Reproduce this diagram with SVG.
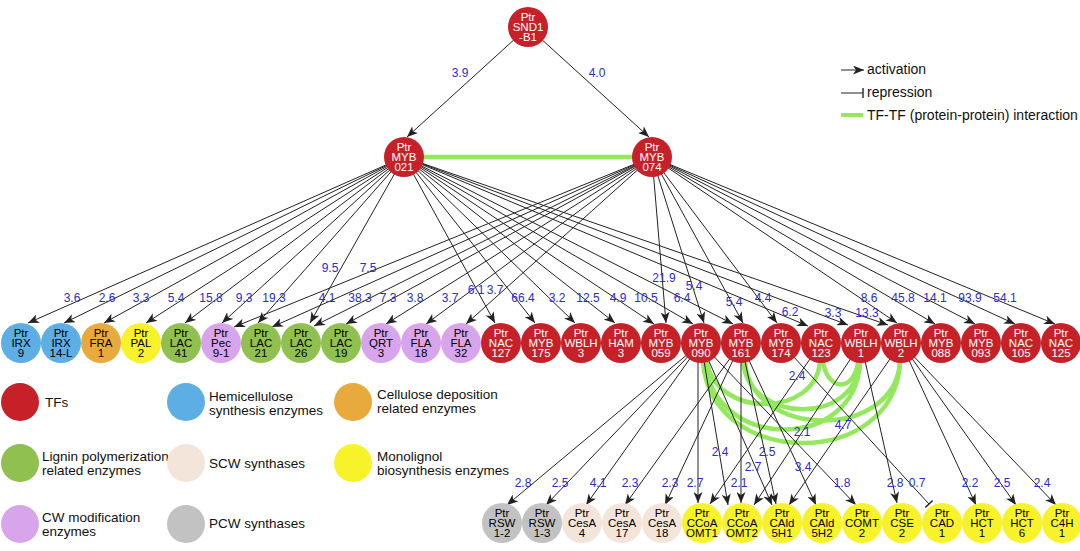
<svg xmlns="http://www.w3.org/2000/svg" width="1080" height="551" viewBox="0 0 1080 551">
<style>
.n text{font-family:"Liberation Sans",Arial,sans-serif;font-size:11.5px;text-anchor:middle}
.tf circle{fill:#c62128}.tf text{fill:#fff}
.hemi circle{fill:#5daee4}.cell circle{fill:#e8aa3c}.lig circle{fill:#8fc050}.cwm circle{fill:#d8a4ec}
.scw circle{fill:#f4e5da}.pcw circle{fill:#c2c2c2}.mono circle{fill:#f8f22a}
.e{stroke:#222;stroke-width:1;fill:none}
.a{marker-end:url(#arr)}
.r{marker-end:url(#bar)}
.lbl{font-family:"Liberation Sans",Arial,sans-serif;font-size:12px;fill:#2b2bcf;text-anchor:middle}
.ppi{stroke:#93e85e;stroke-width:4.5;fill:none;stroke-linecap:round}
.leg{font-family:"Liberation Sans",Arial,sans-serif;font-size:13.5px;fill:#111}
.leg2{font-family:"Liberation Sans",Arial,sans-serif;font-size:14px;fill:#111}
</style>
<defs>
<marker id="arr" markerUnits="userSpaceOnUse" markerWidth="12" markerHeight="9" refX="11" refY="4.5" orient="auto">
<path d="M0,0 L11,4.5 L0,9 L3,4.5 z" fill="#222"/>
</marker>
<marker id="bar" markerUnits="userSpaceOnUse" markerWidth="3" markerHeight="10" refX="1.5" refY="5" orient="auto">
<path d="M1.5,0 L1.5,10" stroke="#222" stroke-width="1.4"/>
</marker>
</defs>
<rect width="1080" height="551" fill="#fff"/>

<g id="ppi-interactions">
<line class="ppi" x1="424" y1="157" x2="632" y2="157" stroke-width="5"/>
<path class="ppi" d="M703,362 C712,470 895,470 900,362"/>
<path class="ppi" d="M705,362 C714,452 856,452 860,362"/>
<path class="ppi" d="M745,362 C752,440 895,440 900,362"/>
<path class="ppi" d="M743,362 C750,425 856,425 860,362"/>
<path class="ppi" d="M707,362 C716,418 815,418 820,362"/>
<path class="ppi" d="M823,362 C828,392 854,392 858,362"/>
</g>

<g id="connectors">
<line class="e a" x1="528" y1="27" x2="407" y2="137"/>
<line class="e a" x1="528" y1="27" x2="649" y2="137"/>
<line class="e a" x1="404" y1="157" x2="28" y2="323"/>
<line class="e a" x1="404" y1="157" x2="64" y2="323"/>
<line class="e a" x1="404" y1="157" x2="104" y2="323"/>
<line class="e a" x1="404" y1="157" x2="146" y2="323"/>
<line class="e a" x1="404" y1="157" x2="185" y2="323"/>
<line class="e a" x1="404" y1="157" x2="222" y2="323"/>
<line class="e a" x1="404" y1="157" x2="258" y2="323"/>
<line class="e a" x1="404" y1="157" x2="310" y2="323"/>
<line class="e a" x1="404" y1="157" x2="495" y2="323"/>
<line class="e a" x1="404" y1="157" x2="535" y2="323"/>
<line class="e a" x1="404" y1="157" x2="575" y2="323"/>
<line class="e a" x1="404" y1="157" x2="615" y2="323"/>
<line class="e a" x1="404" y1="157" x2="654" y2="324"/>
<line class="e a" x1="404" y1="157" x2="693" y2="324"/>
<line class="e a" x1="404" y1="157" x2="733" y2="324"/>
<line class="e a" x1="404" y1="157" x2="808" y2="326"/>
<line class="e a" x1="404" y1="157" x2="848" y2="325"/>
<line class="e a" x1="404" y1="157" x2="888" y2="325"/>
<line class="e a" x1="652" y1="157" x2="234" y2="327"/>
<line class="e a" x1="652" y1="157" x2="272" y2="327"/>
<line class="e a" x1="652" y1="157" x2="314" y2="326"/>
<line class="e a" x1="652" y1="157" x2="346" y2="324"/>
<line class="e a" x1="652" y1="157" x2="386" y2="324"/>
<line class="e a" x1="652" y1="157" x2="426" y2="324"/>
<line class="e a" x1="652" y1="157" x2="466" y2="324"/>
<line class="e a" x1="652" y1="157" x2="666" y2="323"/>
<line class="e a" x1="652" y1="157" x2="704" y2="323"/>
<line class="e a" x1="652" y1="157" x2="743" y2="323"/>
<line class="e a" x1="652" y1="157" x2="777" y2="323"/>
<line class="e a" x1="652" y1="157" x2="897" y2="323"/>
<line class="e a" x1="652" y1="157" x2="935" y2="324"/>
<line class="e a" x1="652" y1="157" x2="975" y2="324"/>
<line class="e a" x1="652" y1="157" x2="1015" y2="324"/>
<line class="e a" x1="652" y1="157" x2="1055" y2="324"/>
<line class="e a" x1="701" y1="343" x2="507" y2="505"/>
<line class="e a" x1="701" y1="343" x2="546" y2="505"/>
<line class="e a" x1="701" y1="343" x2="586" y2="505"/>
<line class="e a" x1="741" y1="343" x2="625" y2="505"/>
<line class="e a" x1="741" y1="343" x2="665" y2="505"/>
<line class="e a" x1="698" y1="343" x2="698" y2="503"/>
<line class="e a" x1="821" y1="343" x2="710" y2="504"/>
<line class="e a" x1="701" y1="343" x2="728" y2="505"/>
<line class="e a" x1="741" y1="343" x2="741" y2="503"/>
<line class="e a" x1="861" y1="343" x2="754" y2="505"/>
<line class="e a" x1="701" y1="343" x2="772" y2="505"/>
<line class="e a" x1="741" y1="343" x2="776" y2="504"/>
<line class="e a" x1="901" y1="343" x2="789" y2="505"/>
<line class="e a" x1="741" y1="343" x2="816" y2="505"/>
<line class="e a" x1="701" y1="343" x2="856" y2="505"/>
<line class="e a" x1="861" y1="343" x2="897" y2="503"/>
<line class="e r" x1="781" y1="343" x2="929" y2="504"/>
<line class="e a" x1="901" y1="343" x2="976" y2="505"/>
<line class="e a" x1="901" y1="343" x2="1016" y2="505"/>
<line class="e a" x1="901" y1="343" x2="1056" y2="505"/>
</g>

<g id="edge-labels">
<text class="lbl" x="460" y="77">3.9</text>
<text class="lbl" x="597" y="77">4.0</text>
<text class="lbl" x="72" y="302">3.6</text>
<text class="lbl" x="107" y="302">2.6</text>
<text class="lbl" x="141" y="302">3.3</text>
<text class="lbl" x="176" y="302">5.4</text>
<text class="lbl" x="211" y="302">15.8</text>
<text class="lbl" x="244" y="302">9.3</text>
<text class="lbl" x="274" y="302">19.3</text>
<text class="lbl" x="330" y="272">9.5</text>
<text class="lbl" x="368" y="272">7.5</text>
<text class="lbl" x="327" y="302">4.1</text>
<text class="lbl" x="360" y="302">38.3</text>
<text class="lbl" x="388" y="302">7.3</text>
<text class="lbl" x="415" y="302">3.8</text>
<text class="lbl" x="450" y="302">3.7</text>
<text class="lbl" x="476" y="294">6.1</text>
<text class="lbl" x="495" y="294">3.7</text>
<text class="lbl" x="523" y="302">66.4</text>
<text class="lbl" x="557" y="302">3.2</text>
<text class="lbl" x="588" y="302">12.5</text>
<text class="lbl" x="618" y="302">4.9</text>
<text class="lbl" x="646" y="302">10.5</text>
<text class="lbl" x="664" y="282">21.9</text>
<text class="lbl" x="682" y="302">6.4</text>
<text class="lbl" x="694" y="290">5.4</text>
<text class="lbl" x="734" y="306">5.4</text>
<text class="lbl" x="763" y="302">4.4</text>
<text class="lbl" x="790" y="316">6.2</text>
<text class="lbl" x="833" y="317">3.3</text>
<text class="lbl" x="867" y="317">13.3</text>
<text class="lbl" x="869" y="302">8.6</text>
<text class="lbl" x="903" y="302">45.8</text>
<text class="lbl" x="935" y="302">14.1</text>
<text class="lbl" x="970" y="302">93.9</text>
<text class="lbl" x="1005" y="302">54.1</text>
<text class="lbl" x="523" y="487">2.8</text>
<text class="lbl" x="560" y="487">2.5</text>
<text class="lbl" x="598" y="487">4.1</text>
<text class="lbl" x="630" y="487">2.3</text>
<text class="lbl" x="670" y="487">2.3</text>
<text class="lbl" x="695" y="487">2.7</text>
<text class="lbl" x="739" y="487">2.1</text>
<text class="lbl" x="720" y="456">2.4</text>
<text class="lbl" x="753" y="471">2.7</text>
<text class="lbl" x="767" y="456">2.5</text>
<text class="lbl" x="797" y="380">2.4</text>
<text class="lbl" x="802" y="436">2.1</text>
<text class="lbl" x="843" y="429">4.7</text>
<text class="lbl" x="803" y="471">3.4</text>
<text class="lbl" x="842" y="487">1.8</text>
<text class="lbl" x="895" y="487">2.8</text>
<text class="lbl" x="917" y="487">0.7</text>
<text class="lbl" x="970" y="487">2.2</text>
<text class="lbl" x="1002" y="487">2.5</text>
<text class="lbl" x="1042" y="487">2.4</text>
</g>

<g id="n-SND1-B1" class="n tf"><circle cx="528" cy="27" r="20"/><text x="528" y="20.5">Ptr</text><text x="528" y="30.5">SND1</text><text x="528" y="40.5">-B1</text></g>
<g id="n-MYB021" class="n tf"><circle cx="404" cy="157" r="20"/><text x="404" y="150.5">Ptr</text><text x="404" y="160.5">MYB</text><text x="404" y="170.5">021</text></g>
<g id="n-MYB074" class="n tf"><circle cx="652" cy="157" r="20"/><text x="652" y="150.5">Ptr</text><text x="652" y="160.5">MYB</text><text x="652" y="170.5">074</text></g>

<g id="n-IRX9" class="n hemi"><circle cx="21" cy="343" r="20"/><text x="21" y="336.5">Ptr</text><text x="21" y="346.5">IRX</text><text x="21" y="356.5">9</text></g>
<g id="n-IRX14-L" class="n hemi"><circle cx="61" cy="343" r="20"/><text x="61" y="336.5">Ptr</text><text x="61" y="346.5">IRX</text><text x="61" y="356.5">14-L</text></g>
<g id="n-FRA1" class="n cell"><circle cx="101" cy="343" r="20"/><text x="101" y="336.5">Ptr</text><text x="101" y="346.5">FRA</text><text x="101" y="356.5">1</text></g>
<g id="n-PAL2" class="n mono"><circle cx="141" cy="343" r="20"/><text x="141" y="336.5">Ptr</text><text x="141" y="346.5">PAL</text><text x="141" y="356.5">2</text></g>
<g id="n-LAC41" class="n lig"><circle cx="181" cy="343" r="20"/><text x="181" y="336.5">Ptr</text><text x="181" y="346.5">LAC</text><text x="181" y="356.5">41</text></g>
<g id="n-Pec9-1" class="n cwm"><circle cx="221" cy="343" r="20"/><text x="221" y="336.5">Ptr</text><text x="221" y="346.5">Pec</text><text x="221" y="356.5">9-1</text></g>
<g id="n-LAC21" class="n lig"><circle cx="261" cy="343" r="20"/><text x="261" y="336.5">Ptr</text><text x="261" y="346.5">LAC</text><text x="261" y="356.5">21</text></g>
<g id="n-LAC26" class="n lig"><circle cx="301" cy="343" r="20"/><text x="301" y="336.5">Ptr</text><text x="301" y="346.5">LAC</text><text x="301" y="356.5">26</text></g>
<g id="n-LAC19" class="n lig"><circle cx="341" cy="343" r="20"/><text x="341" y="336.5">Ptr</text><text x="341" y="346.5">LAC</text><text x="341" y="356.5">19</text></g>
<g id="n-QRT3" class="n cwm"><circle cx="381" cy="343" r="20"/><text x="381" y="336.5">Ptr</text><text x="381" y="346.5">QRT</text><text x="381" y="356.5">3</text></g>
<g id="n-FLA18" class="n cwm"><circle cx="421" cy="343" r="20"/><text x="421" y="336.5">Ptr</text><text x="421" y="346.5">FLA</text><text x="421" y="356.5">18</text></g>
<g id="n-FLA32" class="n cwm"><circle cx="461" cy="343" r="20"/><text x="461" y="336.5">Ptr</text><text x="461" y="346.5">FLA</text><text x="461" y="356.5">32</text></g>
<g id="n-NAC127" class="n tf"><circle cx="501" cy="343" r="20"/><text x="501" y="336.5">Ptr</text><text x="501" y="346.5">NAC</text><text x="501" y="356.5">127</text></g>
<g id="n-MYB175" class="n tf"><circle cx="541" cy="343" r="20"/><text x="541" y="336.5">Ptr</text><text x="541" y="346.5">MYB</text><text x="541" y="356.5">175</text></g>
<g id="n-WBLH3" class="n tf"><circle cx="581" cy="343" r="20"/><text x="581" y="336.5">Ptr</text><text x="581" y="346.5">WBLH</text><text x="581" y="356.5">3</text></g>
<g id="n-HAM3" class="n tf"><circle cx="621" cy="343" r="20"/><text x="621" y="336.5">Ptr</text><text x="621" y="346.5">HAM</text><text x="621" y="356.5">3</text></g>
<g id="n-MYB059" class="n tf"><circle cx="661" cy="343" r="20"/><text x="661" y="336.5">Ptr</text><text x="661" y="346.5">MYB</text><text x="661" y="356.5">059</text></g>
<g id="n-MYB090" class="n tf"><circle cx="701" cy="343" r="20"/><text x="701" y="336.5">Ptr</text><text x="701" y="346.5">MYB</text><text x="701" y="356.5">090</text></g>
<g id="n-MYB161" class="n tf"><circle cx="741" cy="343" r="20"/><text x="741" y="336.5">Ptr</text><text x="741" y="346.5">MYB</text><text x="741" y="356.5">161</text></g>
<g id="n-MYB174" class="n tf"><circle cx="781" cy="343" r="20"/><text x="781" y="336.5">Ptr</text><text x="781" y="346.5">MYB</text><text x="781" y="356.5">174</text></g>
<g id="n-NAC123" class="n tf"><circle cx="821" cy="343" r="20"/><text x="821" y="336.5">Ptr</text><text x="821" y="346.5">NAC</text><text x="821" y="356.5">123</text></g>
<g id="n-WBLH1" class="n tf"><circle cx="861" cy="343" r="20"/><text x="861" y="336.5">Ptr</text><text x="861" y="346.5">WBLH</text><text x="861" y="356.5">1</text></g>
<g id="n-WBLH2" class="n tf"><circle cx="901" cy="343" r="20"/><text x="901" y="336.5">Ptr</text><text x="901" y="346.5">WBLH</text><text x="901" y="356.5">2</text></g>
<g id="n-MYB088" class="n tf"><circle cx="941" cy="343" r="20"/><text x="941" y="336.5">Ptr</text><text x="941" y="346.5">MYB</text><text x="941" y="356.5">088</text></g>
<g id="n-MYB093" class="n tf"><circle cx="981" cy="343" r="20"/><text x="981" y="336.5">Ptr</text><text x="981" y="346.5">MYB</text><text x="981" y="356.5">093</text></g>
<g id="n-NAC105" class="n tf"><circle cx="1021" cy="343" r="20"/><text x="1021" y="336.5">Ptr</text><text x="1021" y="346.5">NAC</text><text x="1021" y="356.5">105</text></g>
<g id="n-NAC125" class="n tf"><circle cx="1061" cy="343" r="20"/><text x="1061" y="336.5">Ptr</text><text x="1061" y="346.5">NAC</text><text x="1061" y="356.5">125</text></g>

<g id="n-RSW1-2" class="n pcw"><circle cx="502" cy="523" r="20"/><text x="502" y="516.5">Ptr</text><text x="502" y="526.5">RSW</text><text x="502" y="536.5">1-2</text></g>
<g id="n-RSW1-3" class="n pcw"><circle cx="542" cy="523" r="20"/><text x="542" y="516.5">Ptr</text><text x="542" y="526.5">RSW</text><text x="542" y="536.5">1-3</text></g>
<g id="n-CesA4" class="n scw"><circle cx="582" cy="523" r="20"/><text x="582" y="516.5">Ptr</text><text x="582" y="526.5">CesA</text><text x="582" y="536.5">4</text></g>
<g id="n-CesA17" class="n scw"><circle cx="622" cy="523" r="20"/><text x="622" y="516.5">Ptr</text><text x="622" y="526.5">CesA</text><text x="622" y="536.5">17</text></g>
<g id="n-CesA18" class="n scw"><circle cx="662" cy="523" r="20"/><text x="662" y="516.5">Ptr</text><text x="662" y="526.5">CesA</text><text x="662" y="536.5">18</text></g>
<g id="n-CCoAOMT1" class="n mono"><circle cx="702" cy="523" r="20"/><text x="702" y="516.5">Ptr</text><text x="702" y="526.5">CCoA</text><text x="702" y="536.5">OMT1</text></g>
<g id="n-CCoAOMT2" class="n mono"><circle cx="742" cy="523" r="20"/><text x="742" y="516.5">Ptr</text><text x="742" y="526.5">CCoA</text><text x="742" y="536.5">OMT2</text></g>
<g id="n-CAld5H1" class="n mono"><circle cx="782" cy="523" r="20"/><text x="782" y="516.5">Ptr</text><text x="782" y="526.5">CAld</text><text x="782" y="536.5">5H1</text></g>
<g id="n-CAld5H2" class="n mono"><circle cx="822" cy="523" r="20"/><text x="822" y="516.5">Ptr</text><text x="822" y="526.5">CAld</text><text x="822" y="536.5">5H2</text></g>
<g id="n-COMT2" class="n mono"><circle cx="862" cy="523" r="20"/><text x="862" y="516.5">Ptr</text><text x="862" y="526.5">COMT</text><text x="862" y="536.5">2</text></g>
<g id="n-CSE2" class="n mono"><circle cx="902" cy="523" r="20"/><text x="902" y="516.5">Ptr</text><text x="902" y="526.5">CSE</text><text x="902" y="536.5">2</text></g>
<g id="n-CAD1" class="n mono"><circle cx="942" cy="523" r="20"/><text x="942" y="516.5">Ptr</text><text x="942" y="526.5">CAD</text><text x="942" y="536.5">1</text></g>
<g id="n-HCT1" class="n mono"><circle cx="982" cy="523" r="20"/><text x="982" y="516.5">Ptr</text><text x="982" y="526.5">HCT</text><text x="982" y="536.5">1</text></g>
<g id="n-HCT6" class="n mono"><circle cx="1022" cy="523" r="20"/><text x="1022" y="516.5">Ptr</text><text x="1022" y="526.5">HCT</text><text x="1022" y="536.5">6</text></g>
<g id="n-C4H1" class="n mono"><circle cx="1062" cy="523" r="20"/><text x="1062" y="516.5">Ptr</text><text x="1062" y="526.5">C4H</text><text x="1062" y="536.5">1</text></g>

<g id="legend-types">
<circle cx="20" cy="402" r="19" fill="#c62128"/><text class="leg" x="45" y="407">TFs</text>
<circle cx="186" cy="402" r="19" fill="#5daee4"/><text class="leg" x="209" y="401">Hemicellulose</text><text class="leg" x="209" y="415">synthesis enzymes</text>
<circle cx="353" cy="402" r="19" fill="#e8aa3c"/><text class="leg" x="377" y="399">Cellulose deposition</text><text class="leg" x="377" y="413">related enzymes</text>
<circle cx="20" cy="463" r="19" fill="#8fc050"/><text class="leg" x="42" y="461">Lignin polymerization</text><text class="leg" x="42" y="475">related enzymes</text>
<circle cx="186" cy="463" r="19" fill="#f4e5da"/><text class="leg" x="209" y="468">SCW synthases</text>
<circle cx="353" cy="463" r="19" fill="#f8f22a"/><text class="leg" x="377" y="461">Monolignol</text><text class="leg" x="377" y="475">biosynthesis enzymes</text>
<circle cx="20" cy="524" r="19" fill="#d8a4ec"/><text class="leg" x="42" y="522">CW modification</text><text class="leg" x="42" y="536">enzymes</text>
<circle cx="186" cy="524" r="19" fill="#c2c2c2"/><text class="leg" x="209" y="528">PCW synthases</text>
</g>

<g id="legend-edges">
<line class="e a" x1="841" y1="70" x2="864" y2="70"/><text class="leg2" x="867" y="74">activation</text>
<line class="e r" x1="841" y1="93" x2="863" y2="93"/><text class="leg2" x="867" y="97">repression</text>
<line x1="841" y1="115" x2="863" y2="115" stroke="#93e85e" stroke-width="4"/><text class="leg2" x="867" y="120">TF-TF (protein-protein) interaction</text>
</g>
</svg>
